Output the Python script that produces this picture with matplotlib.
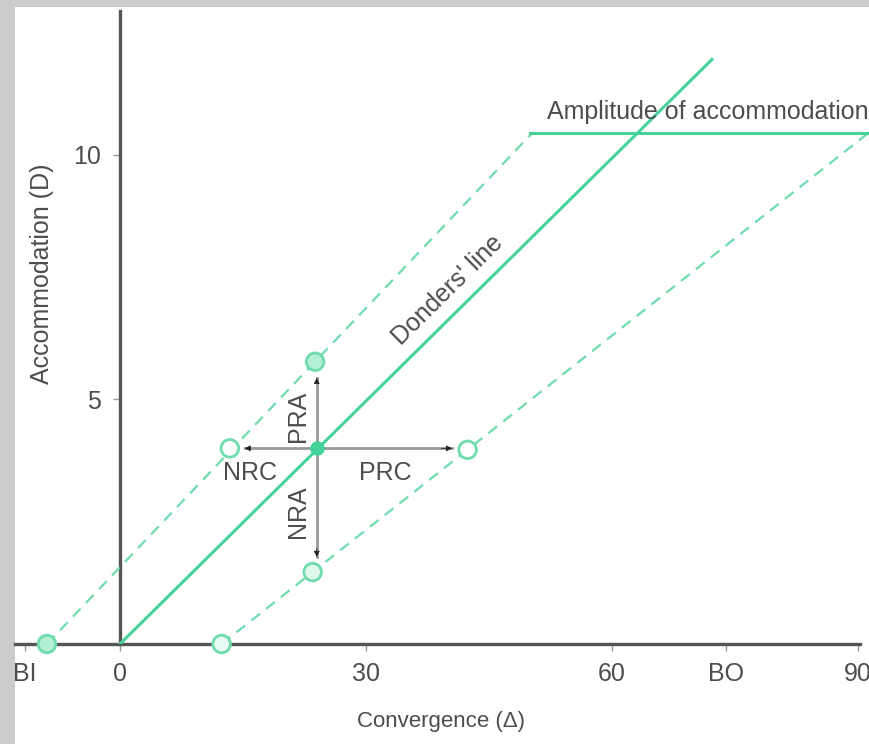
import matplotlib
matplotlib.use("Agg")
import matplotlib.pyplot as plt
from matplotlib import font_manager
from matplotlib.patches import Rectangle

# data
donders_x = [0, 72.2]
donders_y = [0, 11.95]
upper_x = [-8.9, 50.3]          # upper dashed line (PRA/NRC side)
upper_y = [0, 10.45]
lower_x = [12.4, 91.3]          # lower dashed line (NRA/PRC side)
lower_y = [0, 10.45]
amp_x = [50.0, 91.3]
amp_y = [10.45, 10.45]

circle_x = [-8.9, 13.4, 23.8, 12.4, 23.5, 42.4]
circle_y = [0, 4.0, 5.77, 0, 1.47, 3.97]
circle_fill = ["#b3f0d4", "#ffffff", "#b3f0d4", "#eafbf3", "#dff8ec", "#ffffff"]

center = (24, 4)
arrow_tips = [(15.2, 4), (40.5, 4), (24, 5.44), (24, 1.78)]

xtick_pos = [-11.6, 0, 30, 60, 73.9, 90]
xtick_lab = ["BI", "0", "30", "60", "BO", "90"]
ytick_pos = [5, 10]
ytick_lab = ["5", "10"]

# font (narrow face if there is one)
names = {f.name for f in font_manager.fontManager.ttflist}
if "Liberation Sans Narrow" in names:
    fam = "Liberation Sans Narrow"
    fs = 21
else:
    fam = "Liberation Sans"
    fs = 18
plt.rcParams["font.family"] = [fam, "DejaVu Sans"]

green = "#45d39a"
lgreen = "#6fdcae"
txt = "#4d4d4d"

W, H = 869, 744
fig = plt.figure(figsize=(W / 100, H / 100), dpi=100, facecolor="#cccccc")
fig.patches.append(Rectangle((15 / W, 0), 1, (H - 7) / H, transform=fig.transFigure,
                             facecolor="white", edgecolor="none", zorder=-5))

ax = fig.add_axes([15 / W, 100 / H, (W - 15) / W, 633 / H])
ax.patch.set_alpha(0)
ax.set_xlim(-12.8, 91.35)
ax.set_ylim(0, 12.94)

for s in ["top", "right"]:
    ax.spines[s].set_visible(False)
ax.spines["left"].set_position(("data", 0))
ax.spines["bottom"].set_bounds(-12.8, 90.2)
for s in ["left", "bottom"]:
    ax.spines[s].set_color("#555555")
    ax.spines[s].set_linewidth(2.4)

ax.set_xticks(xtick_pos)
ax.set_xticklabels(xtick_lab)
ax.set_yticks(ytick_pos)
ax.set_yticklabels(ytick_lab)
ax.tick_params(axis="x", length=5, width=1, color="#999999", pad=8, labelsize=fs, labelcolor=txt)
ax.tick_params(axis="y", length=5, width=1, color="#999999", pad=9, labelsize=fs, labelcolor=txt)

# lines
ax.plot(donders_x, donders_y, color=green, lw=2.2, zorder=3)
ax.plot(upper_x, upper_y, color=lgreen, lw=1.6, dashes=(5, 3.5), zorder=3)
ax.plot(lower_x, lower_y, color=lgreen, lw=1.6, dashes=(5, 3.5), zorder=3, clip_on=False)
ax.plot(amp_x, amp_y, color=green, lw=2.2, zorder=3, clip_on=False)

# arrows from the working point
for tx, ty in arrow_tips:
    ax.plot([center[0], tx], [center[1], ty], color="#999999", lw=2, zorder=2)
    dx = (tx - center[0]) * 0.08
    dy = (ty - center[1]) * 0.08
    ax.annotate("", xy=(tx, ty), xytext=(tx - dx, ty - dy),
                arrowprops=dict(arrowstyle="-|>", color="#222222", lw=0.5,
                                mutation_scale=9, shrinkA=0, shrinkB=0), zorder=4)

ax.scatter(circle_x, circle_y, s=160, facecolors=circle_fill, edgecolors=lgreen,
           linewidths=2, zorder=5, clip_on=False)
ax.scatter([center[0]], [center[1]], s=90, color=green, zorder=6)

# annotations
ax.text(52.1, 10.62, "Amplitude of accommodation", fontsize=fs, color=txt,
        ha="left", va="bottom", clip_on=False)
ax.text(40, 7.24, "Donders' line", fontsize=fs, color=txt, rotation=44.6,
        rotation_mode="anchor", ha="center", va="center")
ax.text(21.7, 4.66, "PRA", fontsize=fs, color=txt, rotation=90, ha="center", va="center")
ax.text(21.7, 2.7, "NRA", fontsize=fs, color=txt, rotation=90, ha="center", va="center")
ax.text(15.85, 3.5, "NRC", fontsize=fs, color=txt, ha="center", va="center")
ax.text(32.4, 3.5, "PRC", fontsize=fs, color=txt, ha="center", va="center")

fig.text(42 / W, 1 - 274 / H, "Accommodation (D)", fontsize=fs, color=txt,
         rotation=90, ha="center", va="center")
fig.text(441 / W, 1 - 722 / H, "Convergence (\u0394)", fontsize=fs - 2, color=txt,
         ha="center", va="center")

fig.savefig("out.png", dpi=100, facecolor=fig.get_facecolor())
